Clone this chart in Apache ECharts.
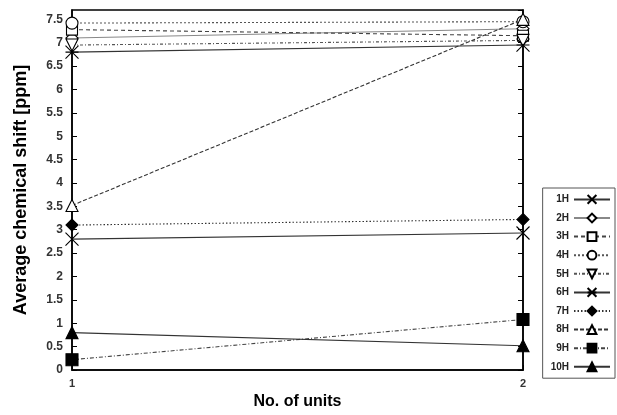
<!DOCTYPE html>
<html><head><meta charset="utf-8">
<script src="https://cdn.jsdelivr.net/npm/echarts@6/dist/echarts.min.js"></script>
<style>html,body{margin:0;padding:0;background:#fff}#c{width:617px;height:415px}</style>
</head><body><div id="c"></div>
<script>
const units = [1, 2];
const seriesNames = ['1H','2H','3H','4H','5H','6H','7H','8H','9H','10H'];
const h1 = [2.80, 2.93];
const h2 = [7.10, 7.30];
const h3 = [7.28, 7.15];
const h4 = [7.42, 7.45];
const h5 = [6.95, 7.05];
const h6 = [6.80, 6.95];
const h7 = [3.10, 3.22];
const h8 = [3.52, 7.50];
const h9 = [0.22, 1.08];
const h10 = [0.80, 0.52];
const yTicks = ['0','0.5','1','1.5','2','2.5','3','3.5','4','4.5','5','5.5','6','6.5','7','7.5'];

const X = 'path://M0,0L10,10M10,0L0,10';
const AST = 'path://M0,0L10,10M10,0L0,10M0,5L10,5';
const values = [h1,h2,h3,h4,h5,h6,h7,h8,h9,h10];
const styles = [
  {sym: X, fill: 'none', dash: 'solid', size: 13, color:'#333'},
  {sym: 'diamond', fill: '#fff', dash: 'solid', size: 12, color:'#888'},
  {sym: 'rect', fill: '#fff', dash: [4,3], size: 11, color:'#444'},
  {sym: 'circle', fill: '#fff', dash: [2,2], size: 12, color:'#555'},
  {sym: 'triangle', rot: 180, fill: '#fff', dash: [3,2,1,2], size: 12, color:'#555'},
  {sym: AST, fill: 'none', dash: 'solid', size: 13, color:'#333'},
  {sym: 'diamond', fill: '#000', dash: [1.5,2], size: 12, color:'#333'},
  {sym: 'triangle', fill: '#fff', dash: [4,2], size: 12, color:'#333'},
  {sym: 'rect', fill: '#000', dash: [4,2,1,2], size: 12, color:'#444'},
  {sym: 'triangle', fill: '#000', dash: 'solid', size: 12, color:'#333'}
];

const series = seriesNames.map((n, i) => {
  const s = styles[i];
  return {
    name: n, type: 'line',
    data: units.map((u, k) => [u, values[i][k]]),
    symbol: s.sym, symbolSize: s.size, symbolRotate: s.rot || 0,
    showAllSymbol: true,
    lineStyle: {color: s.color, width: 1.1, type: s.dash},
    itemStyle: {color: s.fill === 'none' ? 'rgba(0,0,0,0)' : s.fill, borderColor: '#000', borderWidth: 1.1},
    emphasis: {disabled: true},
    clip: false,
    z: 3
  };
});

const chart = echarts.init(document.getElementById('c'));
const axisFont = {fontFamily: 'Liberation Sans, Arial', fontSize: 12, color: '#333', fontWeight: 'bold'};
chart.setOption({
  animation: false,
  backgroundColor: '#fff',
  grid: {left: 72, right: 94, top: 10, bottom: 41, show: true, borderColor: '#000', borderWidth: 1.5},
  legend: {
    orient: 'vertical', right: 2, top: 188,
    align: 'right',
    itemWidth: 36, itemHeight: 11, itemGap: 7.8,
    padding: [6, 4, 6, 8],
    borderColor: '#555', borderWidth: 1,
    textStyle: {fontFamily: 'Liberation Sans, Arial', fontSize: 10, color: '#222', fontWeight: 'bold', width: 20, align: 'right'},
    data: seriesNames
  },
  xAxis: {
    type: 'value', min: 1, max: 2, interval: 1,
    name: 'No. of units', nameLocation: 'middle', nameGap: 24,
    nameTextStyle: {fontFamily: 'Liberation Sans, Arial', fontSize: 16, fontWeight: 'bold', color: '#000'},
    axisLine: {lineStyle: {color: '#000', width: 1.5}},
    axisTick: {inside: true, length: 5, lineStyle: {color: '#000'}},
    axisLabel: Object.assign({margin: 8}, axisFont, {fontSize: 11}),
    splitLine: {show: false}
  },
  yAxis: [{
    type: 'value', min: 0, max: 7.7, interval: 0.5,
    name: 'Average chemical shift [ppm]', nameLocation: 'middle', nameGap: 42,
    nameTextStyle: {fontFamily: 'Liberation Sans, Arial', fontSize: 18, fontWeight: 'bold', color: '#000'},
    axisLine: {lineStyle: {color: '#000', width: 1.5}},
    axisTick: {inside: true, length: 5, lineStyle: {color: '#000'}},
    axisLabel: Object.assign({margin: 9, showMaxLabel: false, formatter: v => { const i = Math.round(v*2); return yTicks[i] !== undefined && Math.abs(v*2 - i) < 1e-6 ? yTicks[i] : ''; }}, axisFont),
    splitLine: {show: false}
  }, {
    type: 'value', min: 0, max: 7.7, interval: 0.5, position: 'right',
    axisLine: {show: true, lineStyle: {color: '#000', width: 1.5}},
    axisTick: {inside: true, length: 5, lineStyle: {color: '#000'}},
    axisLabel: {show: false},
    splitLine: {show: false}
  }],
  series: series
});
</script></body></html>
